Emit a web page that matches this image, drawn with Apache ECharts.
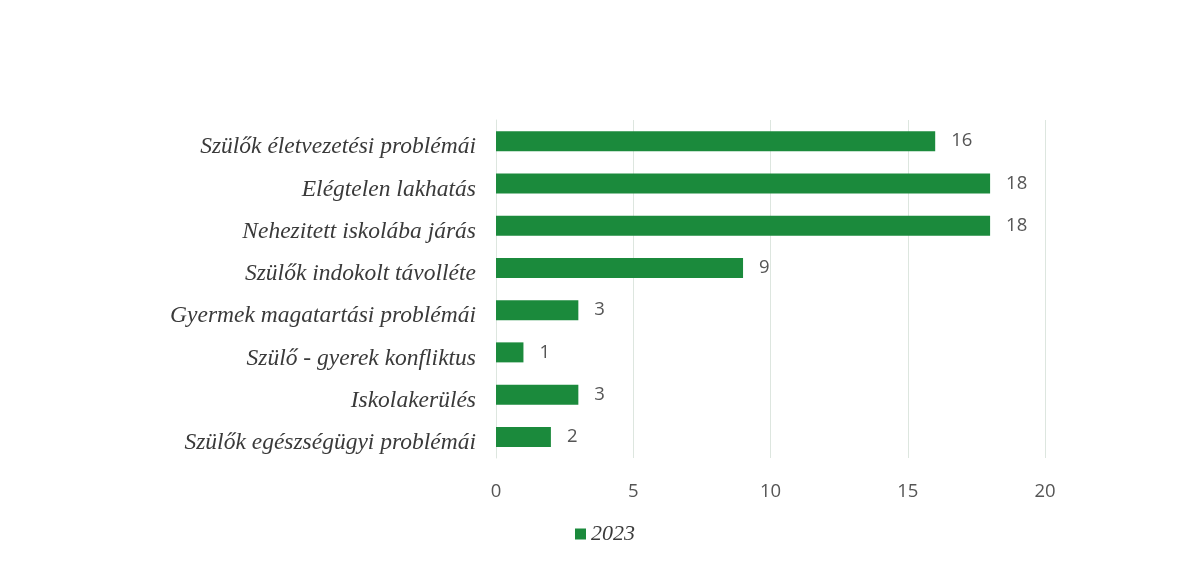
<!DOCTYPE html>
<html><head><meta charset="utf-8">
<script src="https://cdn.jsdelivr.net/npm/echarts@6/dist/echarts.min.js"></script>
<style>html,body{margin:0;padding:0;background:#fff}#c{width:1179px;height:564px}</style>
</head><body><div id="c"></div>
<script>
const categories = ["Szülők életvezetési problémái","Elégtelen lakhatás","Nehezitett iskolába járás","Szülők indokolt távolléte","Gyermek magatartási problémái","Szülő - gyerek konfliktus","Iskolakerülés","Szülők egészségügyi problémái"];
const values2023 = [16,18,18,9,3,1,3,2];
const seriesName = "2023";
const xTicks = {min:0,max:20,interval:5};

const chart = echarts.init(document.getElementById('c'));
chart.setOption({
  backgroundColor:'#fff',
  animation:false,
  grid:{left:496,right:134,top:120,bottom:106,containLabel:false},
  legend:{data:[seriesName],bottom:14,left:570,itemWidth:11,itemHeight:11,itemGap:5,
    icon:'rect',textStyle:{fontFamily:'Liberation Serif',fontStyle:'italic',fontSize:22,color:'#3a3a3a'}},
  xAxis:{type:'value',min:xTicks.min,max:xTicks.max,interval:xTicks.interval,
    axisLine:{show:false},axisTick:{show:false},
    splitLine:{lineStyle:{color:'#dde6df',width:1}},
    axisLabel:{margin:24,fontFamily:'Open Sans',fontSize:18.5,color:'#555'}},
  yAxis:{type:'category',data:categories,inverse:true,
    axisLine:{show:true,lineStyle:{color:'#dde6df'}},axisTick:{show:false},
    axisLabel:{margin:20,verticalAlign:'top',lineHeight:12,fontFamily:'Liberation Serif',fontStyle:'italic',fontSize:23.5,color:'#3a3a3a'}},
  series:[{name:seriesName,type:'bar',data:values2023,barWidth:20,
    itemStyle:{color:'#1b8a3c'},
    label:{show:true,position:'right',distance:16,fontFamily:'Open Sans',fontSize:18.5,color:'#555'}}]
});
</script></body></html>
